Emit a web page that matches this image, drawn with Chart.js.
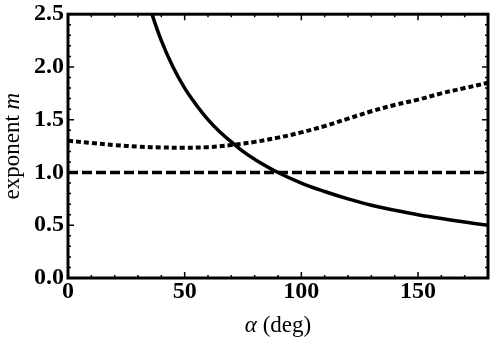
<!DOCTYPE html>
<html>
<head>
<meta charset="utf-8">
<script src="https://cdn.jsdelivr.net/npm/chart.js@4/dist/chart.umd.min.js"></script>
<style>
  html, body { margin: 0; padding: 0; background: #fff; }
  #wrap { width: 491px; height: 340px; }
</style>
</head>
<body>
<div id="wrap"><canvas id="expChart"></canvas></div>
<script>
// values
const alphaSolid = [34, 36, 40, 45, 50, 55, 60, 65, 70, 75, 80, 90, 100, 110, 120, 130, 140, 150, 160, 170, 180];
const mSolid     = [2.65, 2.5, 2.25, 2.0, 1.8, 1.64, 1.5, 1.385, 1.29, 1.2, 1.125, 1.0, 0.9, 0.82, 0.75, 0.69, 0.643, 0.6, 0.563, 0.53, 0.5];

const alphaDotted = [0, 10, 20, 30, 40, 50, 60, 70, 80, 90, 100, 110, 120, 130, 140, 150, 160, 170, 180];
const mDotted     = [1.30, 1.28, 1.26, 1.245, 1.237, 1.235, 1.24, 1.26, 1.29, 1.33, 1.38, 1.44, 1.51, 1.58, 1.64, 1.69, 1.75, 1.80, 1.85];

const alphaDashed = [0, 180];
const mDashed     = [1.0, 1.0];

const xTicks = [0, 50, 100, 150];
const yTicks = [0.0, 0.5, 1.0, 1.5, 2.0, 2.5];

const toPts = (xs, ys) => xs.map((x, i) => ({ x: x, y: ys[i] }));

const serif = '"Liberation Serif", "Times New Roman", serif';

// frame, inward ticks and axis titles
const framePlugin = {
   id: 'frame',
   afterDatasetsDraw(chart) {
      const { ctx, chartArea: a, scales } = chart;
      const xs = scales.x, ys = scales.y;
      ctx.save();
      ctx.strokeStyle = '#000';
      ctx.lineWidth = 1.5;
      ctx.beginPath();
      for (let v = 0; v <= 180; v += 10) {
         const px = xs.getPixelForValue(v);
         const len = v % 50 === 0 ? 6 : 3;
         ctx.moveTo(px, a.bottom); ctx.lineTo(px, a.bottom - len);
         ctx.moveTo(px, a.top); ctx.lineTo(px, a.top + len);
      }
      for (let i = 0; i <= 25; i++) {
         const py = ys.getPixelForValue(i / 10);
         const len = i % 5 === 0 ? 6 : 3;
         ctx.moveTo(a.left, py); ctx.lineTo(a.left + len, py);
         ctx.moveTo(a.right, py); ctx.lineTo(a.right - len, py);
      }
      ctx.stroke();
      ctx.lineWidth = 3;
      ctx.strokeRect(a.left, a.top, a.right - a.left, a.bottom - a.top);

      // x title: "α (deg)"
      ctx.fillStyle = '#000';
      ctx.textBaseline = 'alphabetic';
      const cx = (a.left + a.right) / 2;
      ctx.font = 'italic 23px ' + serif;
      const wA = ctx.measureText('α').width;
      ctx.font = '23px ' + serif;
      const wR = ctx.measureText(' (deg)').width;
      let sx = cx - (wA + wR) / 2;
      ctx.font = 'italic 23px ' + serif;
      ctx.fillText('α', sx, 332);
      ctx.font = '23px ' + serif;
      ctx.fillText(' (deg)', sx + wA, 332);

      // y title: "exponent m"
      ctx.translate(19, (a.top + a.bottom) / 2);
      ctx.rotate(-Math.PI / 2);
      ctx.font = '23px ' + serif;
      const w1 = ctx.measureText('exponent ').width;
      ctx.font = 'italic 23px ' + serif;
      const w2 = ctx.measureText('m').width;
      sx = -(w1 + w2) / 2;
      ctx.font = '23px ' + serif;
      ctx.fillText('exponent ', sx, 0);
      ctx.font = 'italic 23px ' + serif;
      ctx.fillText('m', sx + w1, 0);
      ctx.restore();
   }
};

const ctx = document.getElementById('expChart').getContext('2d');
new Chart(ctx, {
   type: 'line',
   data: {
      datasets: [
         {
            label: 'solid',
            data: toPts(alphaSolid, mSolid),
            borderColor: '#000',
            borderWidth: 3.5,
            tension: 0.4,
            pointRadius: 0
         },
         {
            label: 'dotted',
            data: toPts(alphaDotted, mDotted),
            borderColor: '#000',
            borderWidth: 4,
            borderDash: [5, 3],
            tension: 0.4,
            pointRadius: 0
         },
         {
            label: 'dashed',
            data: toPts(alphaDashed, mDashed),
            borderColor: '#000',
            borderWidth: 3.5,
            borderDash: [10, 4],
            pointRadius: 0
         }
      ]
   },
   options: {
      responsive: true,
      maintainAspectRatio: false,
      animation: false,
      layout: { padding: { left: 30, right: 3, top: 0, bottom: 34 } },
      scales: {
         x: {
            type: 'linear',
            min: 0,
            max: 180,
            afterBuildTicks: (s) => { s.ticks = xTicks.map(v => ({ value: v })); },
            ticks: {
               color: '#000',
               padding: 2,
               maxRotation: 0,
               font: { family: serif, size: 24, weight: 'bold', lineHeight: 1.0 }
            },
            grid: { display: false, drawTicks: false },
            border: { display: false }
         },
         y: {
            min: 0,
            max: 2.5,
            afterBuildTicks: (s) => { s.ticks = yTicks.map(v => ({ value: v })); },
            ticks: {
               color: '#000',
               padding: 4,
               callback: (v) => Number(v).toFixed(1),
               font: { family: serif, size: 24, weight: 'bold', lineHeight: 0.85 }
            },
            grid: { display: false, drawTicks: false },
            border: { display: false }
         }
      },
      plugins: {
         legend: { display: false },
         tooltip: { enabled: false }
      }
   },
   plugins: [framePlugin]
});
</script>
</body>
</html>
